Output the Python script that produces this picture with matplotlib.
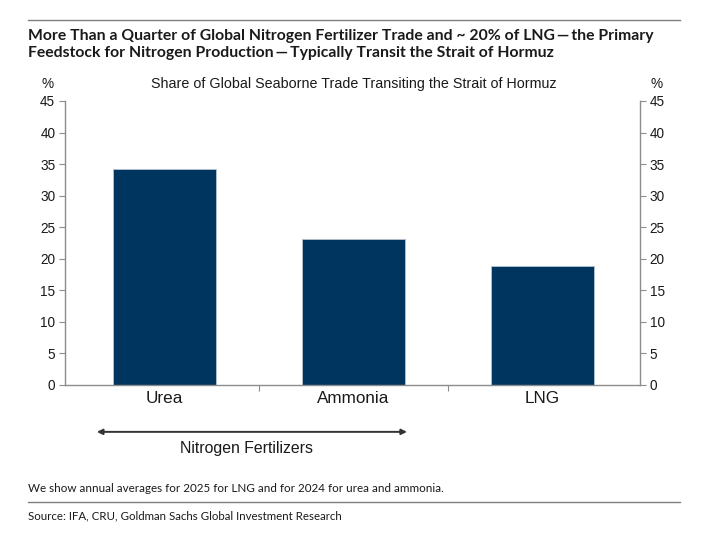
"""Share of global seaborne trade transiting the Strait of Hormuz."""

import matplotlib

matplotlib.use("Agg")
import matplotlib.pyplot as plt  # noqa: E402
import matplotlib.lines as mlines  # noqa: E402

categories = ["Urea", "Ammonia", "LNG"]
share_pct = [34.2, 23.1, 18.8]
y_ticks = [0, 5, 10, 15, 20, 25, 30, 35, 40, 45]

title = ("More Than a Quarter of Global Nitrogen Fertilizer Trade and ~ 20% of LNG\u2009\u2014\u2009the Primary\n"
         "Feedstock for Nitrogen Production\u2009\u2014\u2009Typically Transit the Strait of Hormuz")
subtitle = "Share of Global Seaborne Trade Transiting the Strait of Hormuz"
note = "We show annual averages for 2025 for LNG and for 2024 for urea and ammonia."
source = "Source: IFA, CRU, Goldman Sachs Global Investment Research"
group_label = "Nitrogen Fertilizers"

BAR_COLOR = "#00355F"
AXIS_GRAY = "#8C8C8C"
TEXT_DARK = "#1A1A1A"
CHART_FONT = "Liberation Sans"
HEAD_FONT = "Lato"

W, H = 701, 533
fig = plt.figure(figsize=(W / 100, H / 100), dpi=100)
fig.patch.set_facecolor("white")


def px(x, y):
    return x / W, 1 - y / H


# rules
for y_rule in (20, 502):
    fig.add_artist(mlines.Line2D([28 / W, 680 / W], [1 - y_rule / H] * 2,
                                 color="#7F7F7F", lw=1.0))

fig.text(*px(28, 44.5), title, ha="left", va="center", fontsize=11.3,
         fontweight="bold", family=[HEAD_FONT, "DejaVu Sans"],
         color=TEXT_DARK, linespacing=1.32)

ax = fig.add_axes([65 / W, 1 - 385 / H, (640 - 65) / W, (385 - 101) / H])
x = list(range(len(categories)))
ax.bar(x, share_pct, width=0.545, color=BAR_COLOR, edgecolor="#B8C4D0",
       linewidth=0.6, zorder=2)
ax.set_xlim(-0.526, 2.516)
ax.set_ylim(0, 45)
ax.set_yticks(y_ticks)
ax.set_xticks(x)
ax.set_xticklabels(categories, fontsize=12.3, family=CHART_FONT,
                   color=TEXT_DARK)
ax.set_xticks([0.5, 1.5], minor=True)
ax.tick_params(axis="x", which="major", length=0, pad=4)
ax.tick_params(axis="x", which="minor", length=4, width=0.8,
               color=AXIS_GRAY, direction="out")
ax.tick_params(axis="y", left=True, right=True, labelleft=True,
               labelright=True, direction="out", length=4, width=0.8,
               color=AXIS_GRAY, labelsize=9.8, labelcolor=TEXT_DARK, pad=3)
for lab in ax.get_yticklabels():
    lab.set_family(CHART_FONT)
for side in ("left", "right", "bottom"):
    ax.spines[side].set_color(AXIS_GRAY)
    ax.spines[side].set_linewidth(1.0)
ax.spines["top"].set_visible(False)

fig.text(*px(354, 84), subtitle, ha="center", va="center", fontsize=10.3,
         family=CHART_FONT, color=TEXT_DARK)
fig.text(*px(48, 84), "%", ha="center", va="center", fontsize=9.8,
         family=CHART_FONT, color=TEXT_DARK)
fig.text(*px(657, 84), "%", ha="center", va="center", fontsize=9.8,
         family=CHART_FONT, color=TEXT_DARK)

# group bracket under the fertilizer bars
ax.annotate("", xy=(-0.357, -0.165), xytext=(1.283, -0.165),
            xycoords=ax.get_xaxis_transform(),
            textcoords=ax.get_xaxis_transform(),
            arrowprops=dict(arrowstyle="<|-|>", color="#333333", lw=1.4,
                            mutation_scale=8, shrinkA=0, shrinkB=0),
            annotation_clip=False)
ax.text(0.436, -0.225, group_label, transform=ax.get_xaxis_transform(),
        ha="center", va="center", fontsize=11.4, family=CHART_FONT,
        color=TEXT_DARK)

fig.text(*px(28, 488), note, ha="left", va="center", fontsize=8.35,
         family=[HEAD_FONT, "DejaVu Sans"], color=TEXT_DARK)
fig.text(*px(28, 516), source, ha="left", va="center", fontsize=8.3,
         family=[HEAD_FONT, "DejaVu Sans"], color=TEXT_DARK)

fig.savefig("out.png", dpi=100, facecolor="white")
